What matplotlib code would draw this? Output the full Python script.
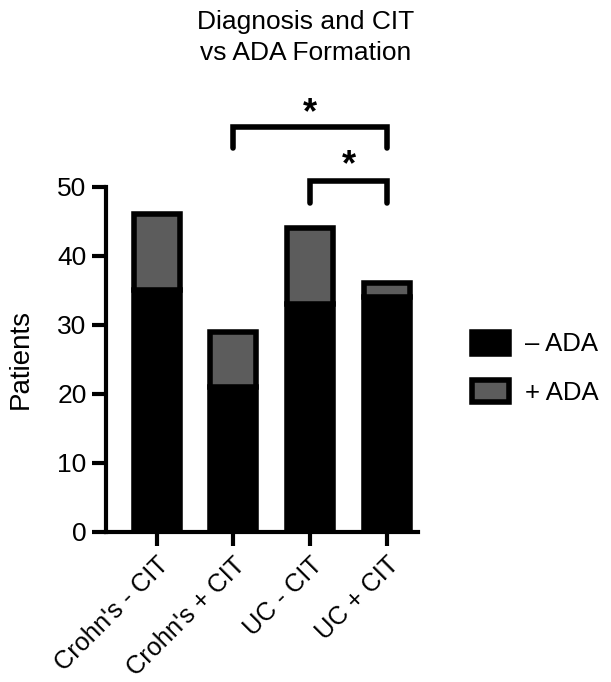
import matplotlib
matplotlib.use('Agg')
import matplotlib.pyplot as plt
import numpy as np

plt.rcParams['font.family'] = ['Liberation Sans', 'DejaVu Sans']

# data
groups = ["Crohn's - CIT", "Crohn's + CIT", "UC - CIT", "UC + CIT"]
neg_ada = [35, 21, 33, 34]
pos_ada = [11, 8, 11, 2]

# significance brackets: (from group, to group, bracket height, leg bottom, star height)
brackets = [(1, 3, 58.7, 55.6, 60.6), (2, 3, 50.9, 47.6, 53.0)]

gray = '#5c5c5c'
lw = 4

fig = plt.figure(figsize=(6.11, 6.82), dpi=100)
ax = fig.add_axes([0.1735, 0.22, 0.51, 0.506])

x = np.arange(len(groups))
w = 0.6
ax.bar(x, neg_ada, width=w, color='black', edgecolor='black', linewidth=lw, label='– ADA')
ax.bar(x, pos_ada, width=w, bottom=neg_ada, color=gray, edgecolor='black', linewidth=lw, label='+ ADA')

ax.set_xlim(-0.66, 3.4)
ax.set_ylim(0, 50)
ax.set_yticks([0, 10, 20, 30, 40, 50])
ax.set_xticks(x)
ax.set_xticklabels(groups, rotation=45, ha='right', va='top', rotation_mode='anchor')
ax.tick_params(axis='both', width=3, length=10, color='black')
ax.tick_params(axis='x', pad=5, labelsize=18.3)
ax.tick_params(axis='y', pad=4, labelsize=19)

for side in ['top', 'right']:
    ax.spines[side].set_visible(False)
for side in ['left', 'bottom']:
    ax.spines[side].set_linewidth(3)

ax.set_ylabel('Patients', fontsize=20, labelpad=17)

for a, b, h, leg, star in brackets:
    ax.plot([x[a], x[a], x[b], x[b]], [leg, h, h, leg], color='black', lw=4,
            solid_capstyle='round', solid_joinstyle='miter', clip_on=False)
    ax.text((x[a] + x[b]) / 2, star, '*', ha='center', va='center', fontsize=26,
            fontweight='bold', clip_on=False)

ax.legend(loc='center left', bbox_to_anchor=(1.1, 0.475), frameon=False, fontsize=18.5,
          handlelength=1.45, handleheight=0.95, labelspacing=0.9, handletextpad=0.6)

fig.text(0.5, 0.985, 'Diagnosis and CIT\nvs ADA Formation', ha='center', va='top',
         fontsize=19, linespacing=1.35)

fig.savefig('out.png', dpi=100)
